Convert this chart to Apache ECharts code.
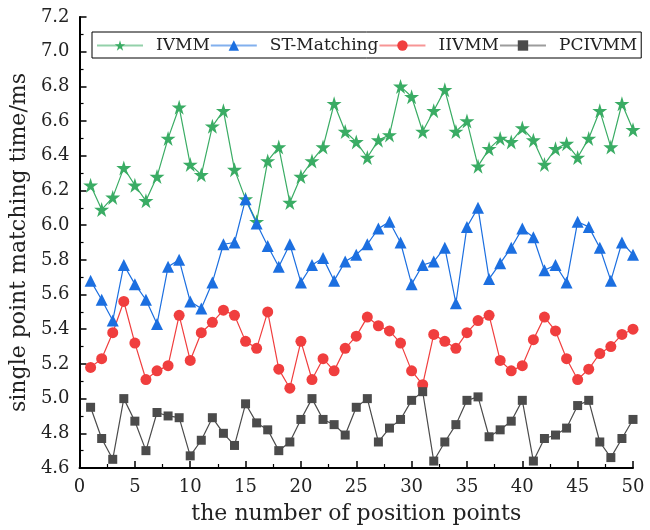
<!DOCTYPE html>
<html>
<head>
<meta charset="utf-8">
<script src="https://cdn.jsdelivr.net/npm/echarts@6/dist/echarts.min.js"></script>
<style>
  html, body { margin: 0; padding: 0; background: #fff; }
  #main { width: 650px; height: 530px; }
</style>
</head>
<body>
<div id="main"></div>
<script>
// x = position point index 1..50
var points = [];
for (var i = 1; i <= 50; i++) points.push(i);

var ivmm = [6.23, 6.09, 6.16, 6.33, 6.23, 6.14, 6.28, 6.50, 6.68, 6.35,
  6.29, 6.57, 6.66, 6.32, 6.15, 6.02, 6.37, 6.45, 6.13, 6.28,
  6.37, 6.45, 6.70, 6.54, 6.48, 6.39, 6.49, 6.52, 6.80, 6.74,
  6.54, 6.66, 6.78, 6.54, 6.60, 6.34, 6.44, 6.50, 6.48, 6.56,
  6.49, 6.35, 6.44, 6.47, 6.39, 6.50, 6.66, 6.45, 6.70, 6.55];

var stMatching = [5.68, 5.57, 5.45, 5.77, 5.66, 5.57, 5.43, 5.76, 5.80, 5.56,
  5.52, 5.67, 5.89, 5.90, 6.15, 6.01, 5.88, 5.76, 5.89, 5.67,
  5.77, 5.81, 5.68, 5.79, 5.83, 5.89, 5.98, 6.02, 5.90, 5.66,
  5.77, 5.79, 5.87, 5.55, 5.99, 6.10, 5.69, 5.78, 5.87, 5.98,
  5.93, 5.74, 5.77, 5.67, 6.02, 5.99, 5.87, 5.68, 5.90, 5.83];

var iivmm = [5.18, 5.23, 5.38, 5.56, 5.32, 5.11, 5.16, 5.19, 5.48, 5.22,
  5.38, 5.44, 5.51, 5.48, 5.33, 5.29, 5.50, 5.17, 5.06, 5.33,
  5.11, 5.23, 5.16, 5.29, 5.36, 5.47, 5.42, 5.39, 5.32, 5.16,
  5.08, 5.37, 5.33, 5.29, 5.38, 5.45, 5.48, 5.22, 5.16, 5.19,
  5.34, 5.47, 5.39, 5.23, 5.11, 5.17, 5.26, 5.30, 5.37, 5.40];

var pcivmm = [4.95, 4.77, 4.65, 5.00, 4.87, 4.70, 4.92, 4.90, 4.89, 4.67,
  4.76, 4.89, 4.80, 4.73, 4.97, 4.86, 4.82, 4.70, 4.75, 4.88,
  5.00, 4.88, 4.85, 4.79, 4.95, 5.00, 4.75, 4.83, 4.88, 4.99,
  5.04, 4.64, 4.75, 4.85, 4.99, 5.01, 4.78, 4.82, 4.87, 4.99,
  4.64, 4.77, 4.79, 4.83, 4.96, 4.99, 4.75, 4.66, 4.77, 4.88];

var names = ['IVMM', 'ST-Matching', 'IIVMM', 'PCIVMM'];

var font = '"DejaVu Serif", "Liberation Serif", serif';

function pairs(arr) {
  return arr.map(function (v, k) { return [points[k], v]; });
}

function mkSeries(name, data, color, symbol, size) {
  return {
    name: name,
    type: 'line',
    data: pairs(data),
    symbol: symbol,
    symbolSize: size,
    showSymbol: true,
    color: color,
    lineStyle: { width: 1.2, color: color },
    itemStyle: { color: color },
    emphasis: { disabled: true },
    animation: false
  };
}

var chart = echarts.init(document.getElementById('main'), null, { renderer: 'canvas' });

var option = {
  backgroundColor: '#fff',
  textStyle: { fontFamily: font },
  grid: { left: 76, right: 17, top: 17, bottom: 61 },
  legend: {
    data: names,
    left: 92,
    top: 32,
    width: 600,
    orient: 'horizontal',
    itemWidth: 46,
    itemHeight: 13,
    itemGap: 0,
    borderColor: '#000',
    borderWidth: 1,
    borderRadius: 0,
    padding: [5, 4, 4, 4],
    lineStyle: { opacity: 0.55 },
    textStyle: { fontFamily: font, fontSize: 17, color: '#222', padding: [0, 0, 0, 8] }
  },
  xAxis: {
    type: 'value',
    min: 0,
    max: 50,
    interval: 5,
    name: 'the number of position points',
    nameLocation: 'middle',
    nameGap: 35,
    nameTextStyle: { fontFamily: font, fontSize: 22, color: '#222' },
    axisLine: { onZero: false, lineStyle: { color: '#000', width: 2 } },
    axisTick: { inside: true, length: 7, lineStyle: { color: '#000', width: 1.5 } },
    minorTick: { show: true, splitNumber: 2, length: 4, lineStyle: { color: '#000', width: 1.2 } },
    splitLine: { show: false },
    axisLabel: { fontFamily: font, fontSize: 18, color: '#222', margin: 10 }
  },
  yAxis: {
    type: 'value',
    min: 4.6,
    max: 7.2,
    interval: 0.2,
    name: 'single point matching time/ms',
    nameLocation: 'middle',
    nameGap: 43,
    nameTextStyle: { fontFamily: font, fontSize: 22, color: '#222' },
    axisLine: { show: true, onZero: false, lineStyle: { color: '#000', width: 2 } },
    axisTick: { show: true, inside: true, length: 7, lineStyle: { color: '#000', width: 1.5 } },
    minorTick: { show: true, splitNumber: 2, length: 4, lineStyle: { color: '#000', width: 1.2 } },
    splitLine: { show: false },
    axisLabel: {
      fontFamily: font, fontSize: 18, color: '#222', margin: 10,
      formatter: function (v) { return v.toFixed(1); }
    }
  },
  series: [
    mkSeries(names[0], ivmm, '#3aac64', 'path://M50,0 L61,35 L98,35 L68,57 L79,92 L50,70 L21,92 L32,57 L2,35 L39,35 Z', 15),
    mkSeries(names[1], stMatching, '#1c6fe0', 'triangle', 12),
    mkSeries(names[2], iivmm, '#f03e3e', 'circle', 11),
    mkSeries(names[3], pcivmm, '#4b4b4b', 'rect', 9)
  ]
};

chart.setOption(option);
</script>
</body>
</html>
